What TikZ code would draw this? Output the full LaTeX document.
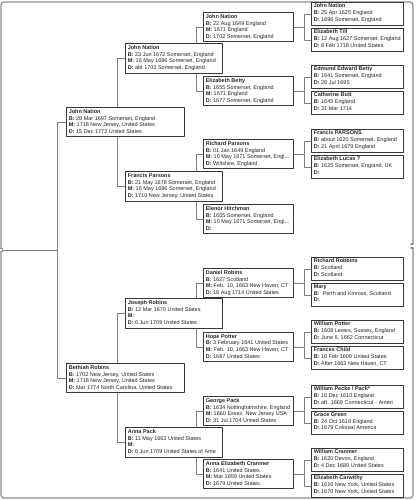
\documentclass[tikz,border=0pt]{standalone}
\usepackage{fontspec}
\setmainfont{Liberation Sans}
\usetikzlibrary{positioning}

\begin{document}
\begin{tikzpicture}[x=1pt,y=-1pt,line cap=round,line join=round,
  person/.style={draw=black!78,line width=1.2pt,fill=white,anchor=north west,inner sep=0pt},
  info/.style={anchor=north west,inner xsep=2.6pt,inner ysep=2.2pt,align=left,
    font=\fontsize{5.5}{6.7}\selectfont,text=black!85},
  genA/.style={person,minimum width=118,minimum height=29,label={[info]north west:{#1}}},
  genB/.style={person,minimum width=97,minimum height=30,label={[info]north west:{#1}}},
  genC/.style={person,minimum width=90,minimum height=29,label={[info]north west:{#1}}},
  genD/.style={person,minimum width=92,minimum height=23,label={[info,inner ysep=1.5pt]north west:{#1}}},
  link/.style={draw=black!50,line width=0.9pt},
  frame/.style={draw=black!45,line width=1.3pt}]
\useasboundingbox (0,0) rectangle (417,500);
% frame
\draw[frame,rounded corners=3] (413,244) -- (413,2) -- (1,2) -- (1,498) -- (413,498) -- (413,248);
\draw[frame] (413,244) -- (411,244);
\draw[frame] (411,248) -- (413,248);
% first generation
\node[genA={\textbf{John Nation}\\ \textbf{B:} 28 Mar 1697 Somerset, England\\ \textbf{M:} 1718 New Jersey, United States\\ \textbf{D:} 15 Dec 1772 United States}] (r1) at (66,107) {};
\node[genA={\textbf{Bethiah Robins}\\ \textbf{B:} 1702 New Jersey, United States\\ \textbf{M:} 1718 New Jersey, United States\\ \textbf{D:} Mar 1774 North Carolina, United States}] (r2) at (66,363) {};
% second generation
\node[genB={\textbf{John Nation}\\ \textbf{B:} 23 Jun 1672 Somerset, England\\ \textbf{M:} 16 May 1696 Somerset, England\\ \textbf{D:} abt 1703 Somerset, England}] (g2a) at (125,43) {};
\node[genB={\textbf{Francis Parsons}\\ \textbf{B:} 21 May 1678 Somerset, England\\ \textbf{M:} 16 May 1696 Somerset, England\\ \textbf{D:} 1710 New Jersey, United States}] (g2b) at (125,171) {};
\node[genB={\textbf{Joseph Robins}\\ \textbf{B:} 12 Mar 1670 United States\\ \textbf{M:}\\ \textbf{D:} 6 Jun 1709 United States}] (g2c) at (125,298) {};
\node[genB={\textbf{Anna Pack}\\ \textbf{B:} 11 May 1663 United States\\ \textbf{M:}\\ \textbf{D:} 6 Jun 1709 United States of Ame}] (g2d) at (125,427) {};
% third generation
\node[genC={\textbf{John Nation}\\ \textbf{B:} 22 Aug 1649 England\\ \textbf{M:} 1671 England\\ \textbf{D:} 1702 Somerset, England}] (g3a) at (203,12) {};
\node[genC={\textbf{Elizabeth Betty}\\ \textbf{B:} 1655 Somerset, England\\ \textbf{M:} 1671 England\\ \textbf{D:} 1677 Somerset, England}] (g3b) at (203,76) {};
\node[genC={\textbf{Richard Parsons}\\ \textbf{B:} 01 Jan 1649 England\\ \textbf{M:} 10 May 1671 Somerset, Engl...\\ \textbf{D:} Wiltshire, England}] (g3c) at (203,139) {};
\node[genC={\textbf{Elenor Hitchman}\\ \textbf{B:} 1655 Somerset, England\\ \textbf{M:} 10 May 1671 Somerset, Engl...\\ \textbf{D:}}] (g3d) at (203,204) {};
\node[genC={\textbf{Daniel Robins}\\ \textbf{B:} 1627 Scotland\\ \textbf{M:} Feb. 10, 1663 New Haven, CT\\ \textbf{D:} 18 Aug 1714 United States}] (g3e) at (203,268) {};
\node[genC={\textbf{Hope Potter}\\ \textbf{B:} 3 February 1641 United States\\ \textbf{M:} Feb. 10, 1663 New Haven, CT\\ \textbf{D:} 1687 United States}] (g3f) at (203,332) {};
\node[genC={\textbf{George Pack}\\ \textbf{B:} 1634 Nottinghamshire, England\\ \textbf{M:} 1660 Essex, New Jersey USA\\ \textbf{D:} 31 Jul 1704 United States}] (g3g) at (203,396) {};
\node[genC={\textbf{Anna Elizabeth Cranmer}\\ \textbf{B:} 1641 United States\\ \textbf{M:} Mar 1659 United States\\ \textbf{D:} 1679 United States}] (g3h) at (203,459) {};
% fourth generation
\node[genD={\textbf{John Nation}\\ \textbf{B:} 25 Apr 1625 England\\ \textbf{D:} 1696 Somerset, England}] (g4a) at (311,2) {};
\node[genD={\textbf{Elizabeth Till}\\ \textbf{B:} 12 Aug 1627 Somerset, England\\ \textbf{D:} 8 Feb 1718 United States}] (g4b) at (311,28) {};
\node[genD={\textbf{Edmund Edward Betty}\\ \textbf{B:} 1641 Somerset, England\\ \textbf{D:} 28 Jul 1695}] (g4c) at (311,65) {};
\node[genD={\textbf{Catherine Butt}\\ \textbf{B:} 1645 England\\ \textbf{D:} 31 Mar 1714}] (g4d) at (311,91) {};
\node[genD={\textbf{Francis PARSONS}\\ \textbf{B:} about 1620 Somerset, England\\ \textbf{D:} 21 April 1679 England}] (g4e) at (311,129) {};
\node[genD={\textbf{Elizabeth Lucas ?}\\ \textbf{B:} 1625 Somerset, England, UK\\ \textbf{D:}}] (g4f) at (311,155) {};
\node[genD={\textbf{Richard Robbins}\\ \textbf{B:} Scotland\\ \textbf{D:} Scotland}] (g4g) at (311,257) {};
\node[genD={\textbf{Mary}\\ \textbf{B:}\ \ Perth and Kinross, Scotland\\ \textbf{D:}}] (g4h) at (311,283) {};
\node[genD={\textbf{William Potter}\\ \textbf{B:} 1608 Lewes, Sussex, England\\ \textbf{D:} June 6, 1662 Connecticut}] (g4i) at (311,320) {};
\node[genD={\textbf{Frances Child}\\ \textbf{B:} 16 Feb 1609 United States\\ \textbf{D:} After 1663 New Haven, CT}] (g4j) at (311,346) {};
\node[genD={\textbf{William Pecke / Pack*}\\ \textbf{B:} 16 Dec 1610 England\\ \textbf{D:} aft. 1669 Connecticut - Ameri}] (g4k) at (311,385) {};
\node[genD={\textbf{Grace Green}\\ \textbf{B:} 24 Oct 1619 England\\ \textbf{D:} 1679 Colonial America}] (g4l) at (311,411) {};
\node[genD={\textbf{William Cranmer}\\ \textbf{B:} 1620 Devon, England\\ \textbf{D:} 4 Dec 1689 United States}] (g4m) at (311,448) {};
\node[genD={\textbf{Elizabeth Carwithy}\\ \textbf{B:} 1616 New York, United States\\ \textbf{D:} 1670 New York, United States}] (g4n) at (311,474) {};
% child link
\node[draw=black!45,fill=white,line width=0.6pt,minimum size=3,inner sep=0pt] (kid) at (1,250) {};
\coordinate (join) at (57,250);
\draw[link] (kid) -- (join);
% connectors
\draw[link] (r1.west) -- ++(-9,0) |- (r2.west);
\draw[link] (r1.north west) ++(51,0) |- (g2a.west);
\draw[link] (r1.south west) ++(51,0) |- (g2b.west);
\draw[link] (r2.north west) ++(51,0) |- (g2c.west);
\draw[link] (r2.south west) ++(51,0) |- (g2d.west);
\draw[link] (g2a.north east) ++(-27,0) |- (g3a.west);
\draw[link] (g2a.south east) ++(-27,0) |- (g3b.west);
\draw[link] (g2b.north east) ++(-27,0) |- (g3c.west);
\draw[link] (g2b.south east) ++(-27,0) |- (g3d.west);
\draw[link] (g2c.north east) ++(-27,0) |- (g3e.west);
\draw[link] (g2c.south east) ++(-27,0) |- (g3f.west);
\draw[link] (g2d.north east) ++(-27,0) |- (g3g.west);
\draw[link] (g2d.south east) ++(-27,0) |- (g3h.west);
\draw[link] (g3a.east) -- ++(10,0) |- (g4a.west);
\draw[link] (g3a.east) -- ++(10,0) |- (g4b.west);
\draw[link] (g3b.east) -- ++(10,0) |- (g4c.west);
\draw[link] (g3b.east) -- ++(10,0) |- (g4d.west);
\draw[link] (g3c.east) -- ++(10,0) |- (g4e.west);
\draw[link] (g3c.east) -- ++(10,0) |- (g4f.west);
\draw[link] (g3e.east) -- ++(10,0) |- (g4g.west);
\draw[link] (g3e.east) -- ++(10,0) |- (g4h.west);
\draw[link] (g3f.east) -- ++(10,0) |- (g4i.west);
\draw[link] (g3f.east) -- ++(10,0) |- (g4j.west);
\draw[link] (g3g.east) -- ++(10,0) |- (g4k.west);
\draw[link] (g3g.east) -- ++(10,0) |- (g4l.west);
\draw[link] (g3h.east) -- ++(10,0) |- (g4m.west);
\draw[link] (g3h.east) -- ++(10,0) |- (g4n.west);
\end{tikzpicture}
\end{document}
